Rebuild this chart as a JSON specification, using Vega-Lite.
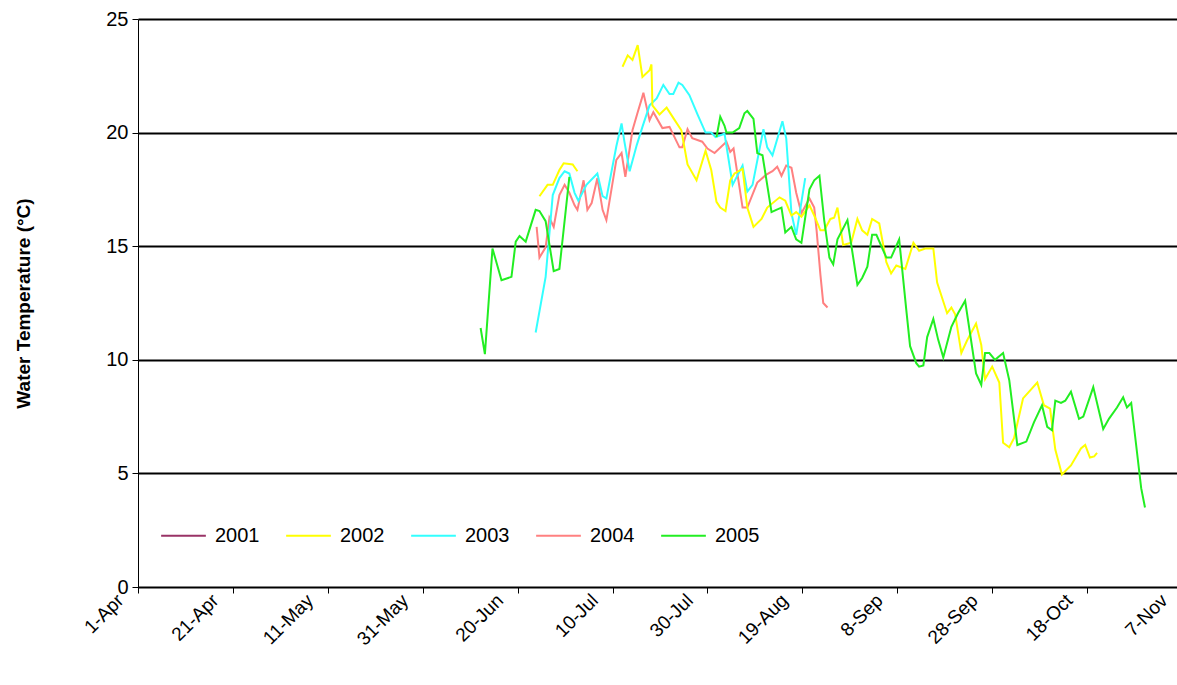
{
  "$schema": "https://vega.github.io/schema/vega-lite/v6.json",
  "width": 1044,
  "height": 568,
  "autosize": "none",
  "padding": {"left": 138, "top": 19, "right": 0, "bottom": 98},
  "background": "white",
  "config": {
    "font": "Liberation Sans",
    "view": {"stroke": null},
    "axis": {"labelFont": "Liberation Sans", "titleFont": "Liberation Sans", "labelColor": "black", "titleColor": "black"}
  },
  "datasets": {
    "g1": [[72.2,11.4],[73.1,10.25],[74.7,14.9],[76.6,13.5],[78.7,13.65],[79.6,15.2],[80.4,15.45],[81.7,15.2],[83.8,16.6],[84.6,16.55],[85.9,16.1],[87.6,13.9],[88.8,14.0],[90.9,18.05]],
    "g2": [[121.9,19.8],[122.7,20.7],[123.6,20.3],[124.0,20.0],[125.3,20.0],[126.7,20.2],[127.8,20.85],[128.4,20.95],[129.7,20.6],[130.5,19.1],[131.6,19.0],[133.5,16.5],[134.5,16.6],[135.6,16.7],[136.4,15.6],[137.7,15.85],[138.7,15.3],[139.8,15.15],[141.5,17.5],[142.5,17.9],[143.6,18.1],[144.6,16.15],[145.7,14.5],[146.5,14.2],[147.4,15.3],[149.5,16.15],[151.6,13.3],[152.6,13.6],[153.7,14.1],[154.7,15.5],[155.6,15.5],[157.7,14.5],[158.7,14.5],[160.4,15.3],[161.9,12.2],[162.7,10.6],[164.0,9.85],[164.6,9.7],[165.5,9.75],[166.3,11.0],[167.6,11.8],[168.6,10.9],[169.7,10.1],[171.4,11.45],[172.8,12.05],[174.3,12.6],[176.6,9.4],[177.7,8.9],[178.5,10.3],[179.4,10.3],[180.6,10.0],[182.3,10.3],[183.6,9.1],[185.3,6.25],[187.2,6.4],[188.8,7.25],[190.5,8.0],[191.6,7.05],[192.6,6.9],[193.3,8.2],[194.5,8.1],[195.4,8.2],[196.6,8.6],[198.3,7.4],[199.2,7.5],[201.3,8.8],[203.4,6.95],[204.6,7.4],[206.3,7.9],[207.6,8.35],[208.4,7.9],[209.3,8.1],[211.4,4.35],[212.2,3.5]],
    "y1": [[84.6,17.2],[86.3,17.7],[87.4,17.7],[88.8,18.35],[89.7,18.65],[91.6,18.6],[92.6,18.3]],
    "y2": [[102.1,22.9],[103.2,23.4],[104.2,23.2],[105.3,23.85],[106.3,22.45],[107.8,22.75],[108.2,23.0],[108.4,21.2],[109.9,20.8],[111.4,21.1],[113.1,20.55],[114.5,20.1],[115.8,18.6],[117.7,17.9],[119.6,19.2],[120.8,18.35],[121.9,16.95],[122.7,16.7],[123.8,16.55],[124.8,17.9],[125.7,18.2],[127.4,18.4],[128.4,16.7],[129.7,15.85],[131.4,16.2],[132.6,16.7],[135.2,17.15],[136.4,17.0],[137.7,16.35],[138.7,16.5],[139.8,16.3],[141.5,16.8],[142.5,16.35],[143.8,15.7],[144.6,15.7],[145.9,16.2],[146.7,16.25],[147.4,16.7],[148.6,15.05],[150.3,15.15],[151.6,16.2],[152.6,15.7],[153.7,15.5],[154.7,16.2],[156.2,16.0],[157.7,14.3],[158.7,13.8],[159.8,14.15],[161.7,14.0],[163.4,15.15],[164.6,14.8],[165.9,14.9],[167.6,14.9],[168.4,13.4],[170.5,12.05],[171.4,12.3],[172.2,12.0],[173.5,10.3],[174.7,10.85],[176.6,11.6],[177.7,10.65],[178.5,9.15],[180.0,9.7],[181.5,9.0],[182.3,6.35],[183.6,6.15],[184.6,6.55],[186.5,8.3],[189.5,9.0],[190.9,8.0],[192.2,7.85],[193.3,6.05],[194.7,4.95],[196.6,5.35],[198.7,6.1],[199.6,6.25],[200.6,5.7],[201.5,5.75],[202.1,5.9]],
    "c1": [[83.8,11.2],[85.9,13.65],[87.4,17.25],[88.8,18.0],[89.9,18.3],[90.9,18.2],[92.0,17.35],[92.8,17.0],[94.5,17.7],[96.8,18.2],[97.9,17.2],[98.7,17.1],[100.8,19.4],[101.9,20.4],[102.5,19.6],[103.6,18.3],[105.1,19.45],[106.3,20.25],[107.8,21.2],[109.3,21.5],[110.7,22.1],[112.0,21.7],[112.8,21.7],[113.9,22.2],[114.7,22.1],[116.2,21.65],[117.9,20.8],[119.6,20.0],[120.8,20.0],[121.7,19.8],[123.6,19.95],[125.3,17.7],[127.4,18.55],[128.4,17.4],[129.5,17.7],[131.8,20.15],[132.6,19.35],[133.7,19.0],[135.8,20.5],[136.6,19.75],[137.7,16.45],[138.7,15.5],[140.6,18.0]],
    "s1": [[84.0,15.85],[84.6,14.5],[85.9,14.95],[86.7,16.25],[87.6,15.85],[88.8,17.25],[89.9,17.7],[90.9,17.35],[92.0,16.8],[92.6,16.6],[93.9,17.9],[94.7,16.6],[95.6,16.9],[96.8,18.0],[97.9,16.6],[98.7,16.15],[100.8,18.8],[101.9,19.1],[102.7,18.05],[104.2,20.1],[105.3,20.9],[106.1,21.45],[106.5,21.75],[107.8,20.55],[108.6,20.9],[110.5,20.2],[112.0,20.25],[114.1,19.35],[114.7,19.35],[115.8,20.15],[116.8,19.75],[118.9,19.6],[120.0,19.3],[121.5,19.1],[124.0,19.6],[124.8,19.15],[125.5,19.3],[127.4,16.7],[128.4,16.7],[130.5,17.8],[132.4,18.15],[133.7,18.3],[134.7,18.5],[135.6,18.1],[136.6,18.55],[137.7,18.45],[138.7,17.35],[139.8,16.45],[141.5,17.1],[142.5,16.7],[143.0,15.7],[143.8,13.75],[144.4,12.5],[145.3,12.3]]
  },
  "layer": [
    {"data": {"name": "s1"}, "transform": [{"calculate": "'2004'", "as": "year"}, {"calculate": "'s1'", "as": "seg"}], "mark": {"type": "line", "strokeWidth": 2}, "encoding": {}},
    {"data": {"name": "c1"}, "transform": [{"calculate": "'2003'", "as": "year"}, {"calculate": "'c1'", "as": "seg"}], "mark": {"type": "line", "strokeWidth": 2}, "encoding": {}},
    {"data": {"name": "y1"}, "transform": [{"calculate": "'2002'", "as": "year"}, {"calculate": "'y1'", "as": "seg"}], "mark": {"type": "line", "strokeWidth": 2}, "encoding": {}},
    {"data": {"name": "y2"}, "transform": [{"calculate": "'2002'", "as": "year"}, {"calculate": "'y2'", "as": "seg"}], "mark": {"type": "line", "strokeWidth": 2}, "encoding": {}},
    {"data": {"name": "g1"}, "transform": [{"calculate": "'2005'", "as": "year"}, {"calculate": "'g1'", "as": "seg"}], "mark": {"type": "line", "strokeWidth": 2}, "encoding": {}},
    {"data": {"name": "g2"}, "transform": [{"calculate": "'2005'", "as": "year"}, {"calculate": "'g2'", "as": "seg"}], "mark": {"type": "line", "strokeWidth": 2}, "encoding": {}}
  ],
  "encoding": {
    "x": {"field": "0", "type": "quantitative", "scale": {"domain": [0, 220], "nice": false},
      "axis": {"values": [0,20,40,60,80,100,120,140,160,180,200,220], "grid": false, "domainColor": "black", "tickColor": "black", "tickSize": 6, "labelAngle": -45, "labelAlign": "right", "labelBaseline": "middle", "labelFlush": false, "labelOverlap": false, "labelBound": false, "labelFontSize": 19, "labelPadding": 4, "labelOffset": -18, "title": null,
        "labelExpr": "['1-Apr','21-Apr','11-May','31-May','20-Jun','10-Jul','30-Jul','19-Aug','8-Sep','28-Sep','18-Oct','7-Nov'][round(datum.value/20)]"}},
    "y": {"field": "1", "type": "quantitative", "scale": {"domain": [0, 25], "nice": false},
      "axis": {"values": [0,5,10,15,20,25], "grid": true, "gridColor": "black", "gridWidth": 2, "gridOpacity": 1, "domainColor": "black", "tickColor": "black", "tickSize": 6, "labelFontSize": 20, "labelPadding": 4, "title": "Water Temperature (°C)", "titleFontSize": 19, "titleFontWeight": "bold", "titlePadding": 72}},
    "color": {"field": "year", "type": "nominal",
      "scale": {"domain": ["2001","2002","2003","2004","2005"], "range": ["#993366","#FFFF00","#33FFFF","#FF8080","#22EE22"]},
      "legend": {"title": null, "orient": "none", "legendX": 22, "legendY": 493, "direction": "horizontal", "symbolType": "stroke", "symbolSize": 2000, "symbolStrokeWidth": 2, "labelFontSize": 20, "columnPadding": 22, "labelOffset": 8}},
    "detail": {"field": "seg"}
  }
}
